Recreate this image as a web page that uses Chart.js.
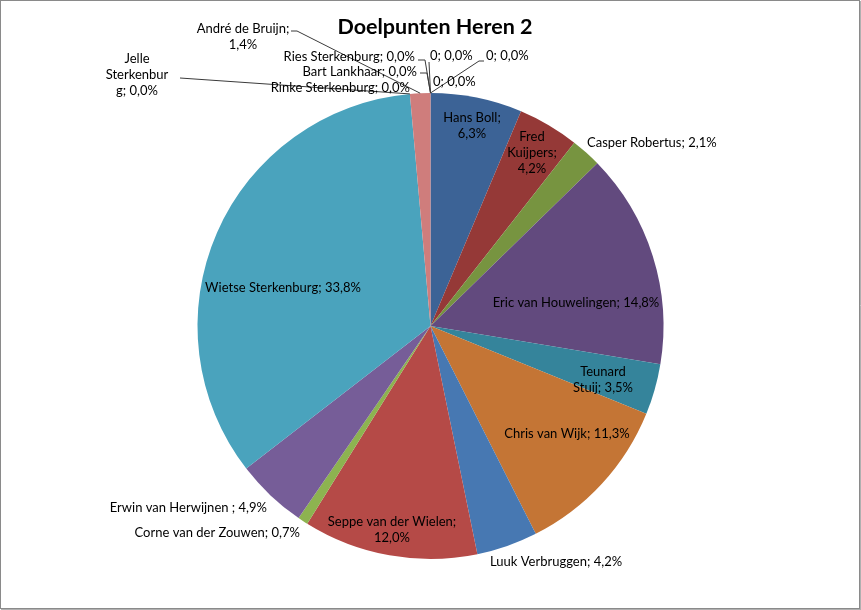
<!DOCTYPE html>
<html>
<head>
<meta charset="utf-8">
<title>Doelpunten Heren 2</title>
<script src="https://cdn.jsdelivr.net/npm/chart.js@4.4.1/dist/chart.umd.min.js"></script>
<style>
  html, body { margin: 0; padding: 0; background: #fff; }
  #wrap { width: 861px; height: 610px; position: relative; }
</style>
</head>
<body>
<div id="wrap"><canvas id="taart" width="861" height="610"></canvas></div>
<script>
const titel = "Doelpunten Heren 2";

const spelers = [
  "Hans Boll", "Fred Kuijpers", "Casper Robertus", "Eric van Houwelingen",
  "Teunard Stuij", "Chris van Wijk", "Luuk Verbruggen", "Seppe van der Wielen",
  "Corne van der Zouwen", "Erwin van Herwijnen ", "Wietse Sterkenburg",
  "Jelle Sterkenburg", "Rinke Sterkenburg", "André de Bruijn", "Bart Lankhaar",
  "Ries Sterkenburg", "0", "0", "0"
];
const percentages = [
  6.3, 4.2, 2.1, 14.8,
  3.5, 11.3, 4.2, 12.0,
  0.7, 4.9, 33.8,
  0.0, 0.0, 1.4, 0.0,
  0.0, 0.0, 0.0, 0.0
];
const kleuren = [
  "#3c6396", "#953937", "#779440", "#624a7e", "#35849b", "#c47535",
  "#4778b2", "#b54a47", "#8db350", "#765d98", "#4aa3bd", "#f0903f",
  "#7d9fd0", "#cf7d7c", "#b5cf86", "#a08bc0", "#7fc4d9", "#f9b27a", "#a9bfe0"
];

// plaats van de labels zoals in Excel (breaks = waar de regel afbreekt)
const labelPlaats = [
  { x: 472, y: 118, align: "center", breaks: [10] },
  { x: 532, y: 137, align: "center", breaks: [4, 14] },
  { x: 587, y: 143, align: "left" },
  { x: 576, y: 303, align: "center" },
  { x: 603, y: 372, align: "center", breaks: [7] },
  { x: 567, y: 434, align: "center" },
  { x: 490, y: 562, align: "left" },
  { x: 392, y: 522, align: "center", breaks: [21] },
  { x: 300, y: 533, align: "right" },
  { x: 267, y: 508, align: "right" },
  { x: 283, y: 288, align: "center" },
  { x: 137, y: 59, align: "center", breaks: [5, 16], lead: [[180, 78]] },
  { x: 410, y: 88, align: "right" },
  { x: 243, y: 29, align: "center", breaks: [16], lead: [[291, 31], [297, 31]] },
  { x: 417, y: 72, align: "right", lead: [[420, 73], [427, 73]] },
  { x: 415, y: 57, align: "right", lead: [[418, 60], [425, 60]] },
  { x: 430, y: 56, align: "left", lead: [[429, 62]] },
  { x: 486, y: 56, align: "left", lead: [[484, 61], [479, 61]] },
  { x: 433, y: 82, align: "left" }
];

const fmt = v => v.toFixed(1).replace(".", ",") + "%";

function regels(tekst, breaks) {
  if (!breaks) return [tekst];
  const out = [];
  let prev = 0;
  breaks.forEach(b => { out.push(tekst.slice(prev, b).trim()); prev = b; });
  out.push(tekst.slice(prev).trim());
  return out;
}

const labelsPlugin = {
  id: "excelLabels",
  afterDraw(chart) {
    const ctx = chart.ctx;
    const meta = chart.getDatasetMeta(0);
    ctx.save();

    // titel
    ctx.fillStyle = "#000";
    ctx.font = "bold 21.5px Lato, 'Open Sans', sans-serif";
    ctx.textAlign = "center";
    ctx.textBaseline = "middle";
    ctx.fillText(titel, 435, 27);

    // aanwijslijnen
    ctx.strokeStyle = "#3a3a3a";
    ctx.lineWidth = 1;
    meta.data.forEach((arc, i) => {
      const pos = labelPlaats[i];
      if (!pos || !pos.lead) return;
      const p = arc.getProps(["x", "y", "startAngle", "endAngle", "outerRadius"], true);
      const mid = (p.startAngle + p.endAngle) / 2;
      const ex = p.x + Math.cos(mid) * p.outerRadius;
      const ey = p.y + Math.sin(mid) * p.outerRadius;
      ctx.beginPath();
      ctx.moveTo(pos.lead[0][0], pos.lead[0][1]);
      for (let k = 1; k < pos.lead.length; k++) ctx.lineTo(pos.lead[k][0], pos.lead[k][1]);
      ctx.lineTo(ex, ey);
      ctx.stroke();
    });

    // labels
    ctx.font = "13px Lato, 'Open Sans', sans-serif";
    ctx.fillStyle = "#000";
    ctx.textBaseline = "middle";
    spelers.forEach((naam, i) => {
      const pos = labelPlaats[i];
      const tekst = naam + "; " + fmt(percentages[i]);
      ctx.textAlign = pos.align;
      regels(tekst, pos.breaks).forEach((r, k) => {
        ctx.fillText(r, pos.x, pos.y + k * 16);
      });
    });

    // rand om de grafiek
    ctx.strokeStyle = "#8a8a8a";
    ctx.lineWidth = 1;
    ctx.strokeRect(0.5, 0.5, 859, 608);
    ctx.beginPath();
    ctx.moveTo(860.5, 1);
    ctx.lineTo(860.5, 610);
    ctx.moveTo(1, 609.5);
    ctx.lineTo(861, 609.5);
    ctx.strokeStyle = "#b0b0b0";
    ctx.stroke();
    ctx.restore();
  }
};

const ctx = document.getElementById("taart").getContext("2d");
const taart = new Chart(ctx, {
  type: "pie",
  data: {
    labels: spelers,
    datasets: [{
      data: percentages,
      backgroundColor: kleuren,
      borderWidth: 0
    }]
  },
  options: {
    responsive: false,
    animation: false,
    layout: { padding: { top: 93, bottom: 51, left: 197, right: 197 } },
    plugins: {
      legend: { display: false },
      tooltip: { enabled: false },
      title: { display: false }
    }
  },
  plugins: [labelsPlugin]
});
</script>
</body>
</html>
